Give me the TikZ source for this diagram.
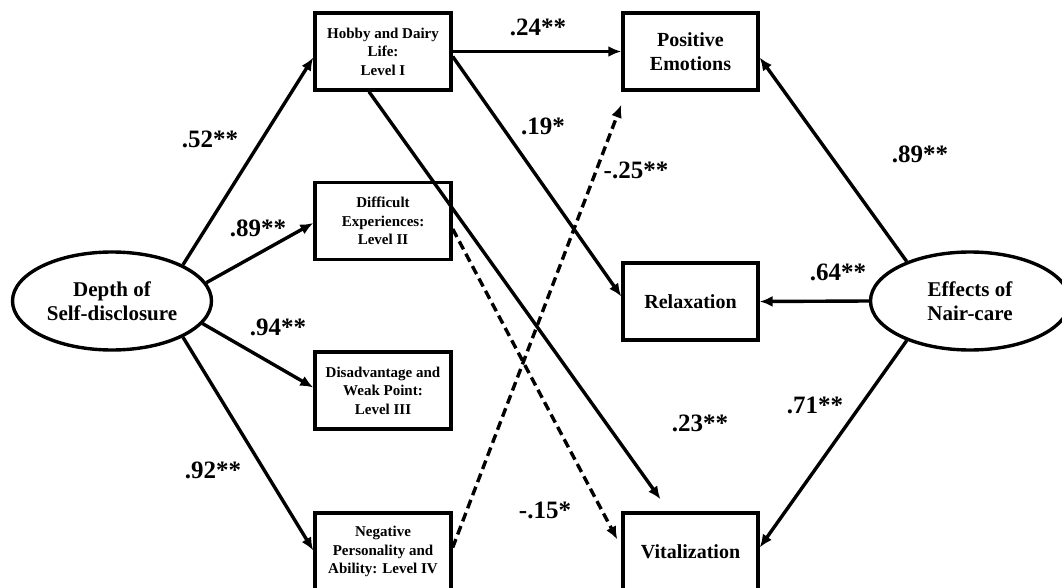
\documentclass[tikz,border=0pt]{standalone}
\usepackage{fontspec}
\setmainfont{Liberation Serif}
\usetikzlibrary{arrows.meta,shapes.geometric}
\begin{document}
\begin{tikzpicture}[x=1pt,y=-1pt,
  conn/.style={line width=3.4pt,-{Latex[length=13pt,width=11pt]}},
  dconn/.style={conn,dash pattern=on 9pt off 5pt},
  smallbox/.style={draw,line width=3.4pt,minimum width=136pt,minimum height=77pt,inner sep=0pt,align=center,font=\fontsize{15}{18.5}\selectfont\bfseries},
  bigbox/.style={draw,line width=3.4pt,minimum width=135pt,minimum height=77pt,inner sep=0pt,align=center,font=\fontsize{20}{24}\selectfont\bfseries},
  latent/.style={draw,ellipse,line width=3.4pt,minimum width=199pt,minimum height=98pt,inner sep=0pt,align=center,font=\fontsize{21}{24}\selectfont\bfseries},
  lab/.style={font=\fontsize{25}{28}\selectfont\bfseries,inner sep=0pt}]
\useasboundingbox (0,0) rectangle (1062,588);
\node[latent] (L) at (112,301) {Depth of\\Self-disclosure};
\node[latent] (E) at (970,301) {Effects of\\Nair-care};
\node[smallbox] (I) at (383,51.5) {Hobby and Dairy\\Life:\\Level I};
\node[smallbox] (II) at (383,221) {Difficult\\Experiences:\\Level II};
\node[smallbox] (III) at (383,390.5) {Disadvantage and\\Weak Point:\\Level III};
\node[smallbox] (IV) at (383,551.5) {Negative\\Personality and\\Ability: Level IV};
\node[bigbox] (PE) at (690.5,51.5) {Positive\\Emotions};
\node[bigbox] (R) at (690.5,301.5) {Relaxation};
\node[bigbox] (V) at (690.5,551.5) {Vitalization};
% left paths
\draw[conn] (L.27) -- ([yshift=-6pt]I.west);
\draw[conn] (L.11) -- ([yshift=-2pt]II.west);
\draw[conn] (L.-14) -- ([yshift=3pt]III.west);
\draw[conn] (L.-27) -- ([yshift=1pt]IV.west);
% middle paths
\draw[conn] (I.east) -- (PE.west);
\draw[conn] ([yshift=-5pt]I.east) -- ([yshift=5pt]R.west);
\coordinate (Ibot) at ([xshift=-14pt]I.south);
\coordinate (Vtop) at ([xshift=-30pt,yshift=12pt]V.north);
\draw[conn] (Ibot) -- (Vtop);
\coordinate (IIr) at ([yshift=-8pt]II.east);
\coordinate (Vl) at ([xshift=-4pt,yshift=12pt]V.west);
\draw[dconn] (IIr) -- (Vl);
\coordinate (IVr) at ([yshift=4pt]IV.east);
\coordinate (PEbl) at ([yshift=-13pt]PE.south west);
\draw[dconn] (IVr) -- (PEbl);
% right paths
\draw[conn] (E.148) -- ([yshift=-6pt]PE.east);
\draw[conn] (E.west) -- (R.east);
\draw[conn] (E.212) -- ([yshift=4pt]V.east);
% labels
\node[lab] (l1) at (210,139) {.52**};
\node[lab] (l2) at (258,228) {.89**};
\node[lab] (l3) at (278,327) {.94**};
\node[lab] (l4) at (213,470) {.92**};
\node[lab] (l5) at (538,27) {.24**};
\node[lab] (l6) at (543,126) {.19*};
\node[lab] (l7) at (636,170) {-.25**};
\node[lab] (l8) at (920,154) {.89**};
\node[lab] (l9) at (838,272) {.64**};
\node[lab] (l10) at (700,423) {.23**};
\node[lab] (l11) at (815,405) {.71**};
\node[lab] (l12) at (545,510) {-.15*};
\end{tikzpicture}
\end{document}
